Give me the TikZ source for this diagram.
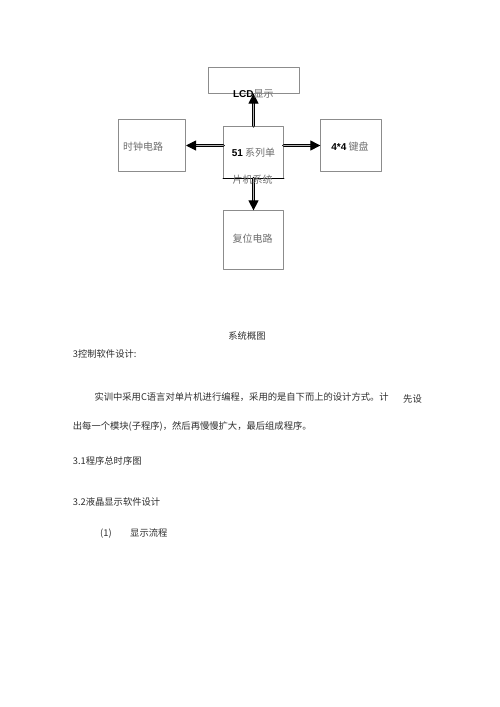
\documentclass[tikz,border=0pt]{standalone}
\usepackage{fontspec}
\setmainfont{Liberation Sans}
\newfontfamily\cjk{Noto Sans CJK SC}
\usetikzlibrary{arrows.meta,positioning}
\definecolor{boxgray}{HTML}{8C8C8C}
\definecolor{labgray}{HTML}{6E6E6E}
\definecolor{txtgray}{HTML}{2E2E2E}
\newcommand{\latbold}[1]{{\normalfont\bfseries\color{black}#1}}
\tikzset{
  unitbox/.style={draw=boxgray,line width=0.6pt,inner sep=0pt},
  boxlabel/.style={text=labgray,font=\fontsize{10}{12}\selectfont\cjk,inner sep=0pt},
  bodytext/.style={anchor=west,text=txtgray,font=\fontsize{9.3}{11}\selectfont\cjk,inner sep=0pt},
  sysarrow/.style={double=gray!60,double distance=1.8pt,line width=1pt,-{Triangle[length=10pt,width=10pt]}}
}
\begin{document}
\begin{tikzpicture}[line cap=round,line join=round,x=1pt,y=-1pt]
	\useasboundingbox[fill=white] (0,0) rectangle (500,707);
	% block diagram
	\node[unitbox,minimum width=91pt,minimum height=26pt] (lcd) at (253.3,80.3) {};
	\node[unitbox,minimum width=67.4pt,minimum height=52.4pt] (clock) at (152,145.5) {};
	\node[unitbox,minimum width=60.4pt,minimum height=52.3pt] (mcu) at (253.5,152.2) {};
	\node[unitbox,minimum width=60.3pt,minimum height=52.4pt] (kbd) at (350.8,145.5) {};
	\node[unitbox,minimum width=60.4pt,minimum height=58.6pt] (reset) at (253.5,240) {};
	\draw [line width=0.9pt] (mcu.south west) -- (mcu.south east);
	\draw [sysarrow] (mcu.north) -- (mcu.north |- lcd.south);
	\draw [sysarrow] (clock.east -| mcu.west) -- (clock.east);
	\draw [sysarrow] (kbd.west -| mcu.east) -- (kbd.west);
	\draw [sysarrow] (mcu.south) -- (mcu.south |- reset.north);
	\node[boxlabel] (lcdtext) at (lcd.south) {\latbold{LCD}显示};
	\node[boxlabel] (mcutext) at (253.5,153) {\latbold{51} 系列单};
	\node[boxlabel] (mcutext2) at (252.5,180) {片机系统};
	\node[boxlabel] (clocktext) at (143,146.7) {时钟电路};
	\node[boxlabel] (kbdtext) at (350,146.7) {\latbold{4*4} 键盘};
	\node[boxlabel] (resettext) at (252.5,239) {复位电路};
	% text below
	\node[bodytext,anchor=center] (caption) at (247,336) {系统概图};
	\node[bodytext] (head3) at (72.7,354.3) {3控制软件设计:};
	\node[bodytext] (para1) at (94.3,396.7) {实训中采用C语言对单片机进行编程，采用的是自下而上的设计方式。计};
	\node[bodytext] (para1b) at (403,399) {先设};
	\node[bodytext] (para2) at (72.7,426) {出每一个模块(子程序)，然后再慢慢扩大，最后组成程序。};
	\node[bodytext] (sec31) at (72.7,461) {3.1程序总时序图};
	\node[bodytext] (sec32) at (72.7,501.7) {3.2液晶显示软件设计};
	\node[bodytext] (item1) at (100,533.3) {(1)};
	\node[bodytext] (item1b) at (130,533.3) {显示流程};
\end{tikzpicture}
\end{document}
